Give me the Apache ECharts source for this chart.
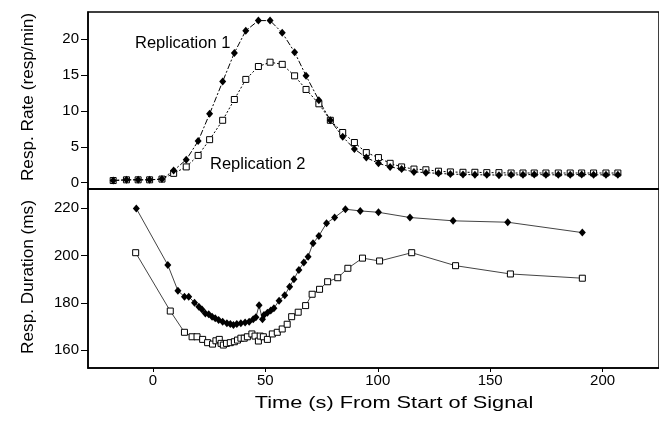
<!DOCTYPE html>
<html>
<head>
<meta charset="utf-8">
<script src="https://cdn.jsdelivr.net/npm/echarts@6/dist/echarts.min.js"></script>
<style>html,body{margin:0;padding:0;background:#fff}#c{width:659px;height:427px}</style>
</head>
<body>
<div id="c"></div>
<script>
// ---- Data ----
const xTicks = [0, 50, 100, 150, 200];
const rateTicks = [0, 5, 10, 15, 20];
const durTicks = [160, 180, 200, 220];

const rateTime = [-17.7, -11.8, -6.6, -1.5, 4.0, 9.2, 14.8, 20.1, 25.2, 31.0, 36.2, 41.3, 46.9, 52.1, 57.5, 63.0, 68.1, 73.8, 78.9, 84.4, 89.6, 94.9, 100.3, 105.5, 110.6, 116.1, 121.4, 127.0, 132.3, 137.9, 143.2, 148.5, 153.9, 159.3, 164.6, 169.6, 174.8, 180.3, 185.6, 190.7, 196.0, 201.5, 206.8];
const rateRep1 = [0.3, 0.4, 0.4, 0.4, 0.5, 1.7, 3.2, 5.8, 9.6, 14.1, 18.1, 21.2, 22.6, 22.6, 20.9, 18.2, 14.9, 11.5, 8.7, 6.4, 4.7, 3.5, 2.7, 2.2, 1.9, 1.5, 1.4, 1.3, 1.2, 1.15, 1.1, 1.1, 1.05, 1.1, 1.1, 1.15, 1.1, 1.1, 1.1, 1.15, 1.1, 1.1, 1.1];
const rateRep2 = [0.3, 0.4, 0.4, 0.4, 0.5, 1.3, 2.2, 3.8, 6.0, 8.7, 11.6, 14.4, 16.2, 16.8, 16.5, 14.9, 13.0, 11.0, 8.7, 7.0, 5.6, 4.2, 3.5, 2.7, 2.2, 1.9, 1.8, 1.6, 1.5, 1.45, 1.45, 1.4, 1.4, 1.35, 1.35, 1.35, 1.35, 1.35, 1.35, 1.35, 1.35, 1.35, 1.35];

const durTimeRep1 = [-7.4, 6.6, 11.1, 14.0, 15.9, 18.5, 20.4, 21.8, 23.3, 24.8, 26.3, 27.7, 29.2, 31.0, 32.9, 34.4, 35.8, 37.3, 39.1, 41.0, 42.8, 44.6, 45.8, 47.2, 48.7, 49.4, 50.9, 52.4, 53.8, 56.1, 58.6, 60.8, 62.7, 64.9, 67.1, 69.0, 71.2, 73.8, 77.2, 80.8, 85.6, 92.2, 100.3, 114.3, 133.5, 157.8, 191.0];
const durRep1 = [219.9, 196.0, 185.1, 182.6, 182.6, 180.0, 178.3, 177.2, 175.5, 175.1, 174.1, 173.4, 172.7, 172.0, 171.3, 171.0, 170.6, 171.0, 171.3, 171.6, 172.0, 173.0, 173.9, 178.9, 173.0, 174.8, 175.8, 176.7, 177.7, 180.9, 183.2, 186.8, 190.0, 193.9, 197.0, 199.5, 205.2, 208.3, 213.7, 216.1, 219.6, 218.9, 218.3, 216.1, 214.7, 214.1, 209.7];
const durTimeRep2 = [-7.7, 7.7, 14.0, 17.4, 19.6, 22.1, 24.3, 26.5, 28.0, 29.5, 30.3, 31.3, 32.7, 34.4, 36.2, 37.6, 39.1, 40.6, 42.0, 44.0, 45.4, 46.9, 47.7, 49.1, 50.9, 53.1, 55.3, 57.5, 59.7, 61.7, 64.6, 67.9, 70.8, 74.1, 77.7, 82.2, 86.7, 93.2, 100.8, 115.1, 134.6, 159.0, 191.0];
const durRep2 = [201.2, 176.5, 167.5, 165.6, 165.6, 164.5, 163.1, 162.5, 163.9, 164.5, 162.8, 162.1, 162.8, 163.1, 163.5, 164.2, 165.0, 165.0, 165.6, 166.8, 165.9, 163.8, 165.9, 165.6, 164.5, 166.8, 167.5, 168.9, 170.9, 174.1, 176.0, 178.8, 183.6, 185.7, 188.9, 190.6, 194.6, 198.9, 197.7, 201.2, 195.7, 192.2, 190.4];

const titles = {
  rate: 'Resp. Rate (resp/min)',
  dur: 'Resp. Duration (ms)',
  x: 'Time (s) From Start of Signal',
  rep1: 'Replication 1',
  rep2: 'Replication 2'
};

// ---- Build chart ----
const pairs = (xs, ys) => xs.map((x, i) => [x, ys[i]]);
const FONT = 'Liberation Sans, Arial, sans-serif';
const chart = echarts.init(document.getElementById('c'), null, {renderer: 'canvas'});

const xCommon = {
  type: 'value', min: -28.9, max: 225.1,
  splitLine: {show: false},
  axisLine: {show: true, onZero: false, lineStyle: {color: '#000', width: 1.5}},
  axisTick: {show: true, inside: false, length: 4, customValues: xTicks, lineStyle: {color: '#000'}},
  axisLabel: {show: true, customValues: xTicks, color: '#000', fontSize: 15, fontFamily: FONT, margin: 5}
};
const yCommon = {
  type: 'value',
  splitLine: {show: false},
  axisLine: {show: true, onZero: false, lineStyle: {color: '#000', width: 1.5}},
  axisTick: {show: true, inside: false, length: 7, lineStyle: {color: '#000'}},
  axisLabel: {color: '#000', fontSize: 15, fontFamily: FONT, margin: 9}
};

chart.setOption({
  animation: false,
  backgroundColor: '#fff',
  grid: [
    {left: 88, top: 12, right: -3, height: 177, show: true, borderColor: '#000', borderWidth: 1.5, containLabel: false},
    {left: 88, top: 189, right: -3, height: 179, show: true, borderColor: '#000', borderWidth: 1.5, containLabel: false}
  ],
  xAxis: [
    Object.assign({}, xCommon, {gridIndex: 0, axisTick: {show: false}, axisLabel: {show: false}}),
    Object.assign({}, xCommon, {gridIndex: 1})
  ],
  yAxis: [
    Object.assign({}, yCommon, {gridIndex: 0, min: -0.88, max: 23.8,
      axisTick: Object.assign({}, yCommon.axisTick, {customValues: rateTicks}),
      axisLabel: Object.assign({}, yCommon.axisLabel, {customValues: rateTicks})}),
    Object.assign({}, yCommon, {gridIndex: 1, min: 152.38, max: 228.17,
      axisTick: Object.assign({}, yCommon.axisTick, {customValues: durTicks}),
      axisLabel: Object.assign({}, yCommon.axisLabel, {customValues: durTicks})})
  ],
  series: [
    {name: titles.rep2, type: 'line', xAxisIndex: 0, yAxisIndex: 0, data: pairs(rateTime, rateRep2),
     symbol: 'rect', symbolSize: 6, itemStyle: {color: '#fff', borderColor: '#000', borderWidth: 1},
     lineStyle: {color: '#000', width: 1, type: [2, 2]}},
    {name: titles.rep1, type: 'line', xAxisIndex: 0, yAxisIndex: 0, data: pairs(rateTime, rateRep1),
     symbol: 'diamond', symbolSize: [7, 8], itemStyle: {color: '#000'},
     lineStyle: {color: '#000', width: 1, type: [6, 2, 2, 2]}},
    {name: titles.rep2, type: 'line', xAxisIndex: 1, yAxisIndex: 1, data: pairs(durTimeRep2, durRep2),
     symbol: 'rect', symbolSize: 6, itemStyle: {color: '#fff', borderColor: '#000', borderWidth: 1},
     lineStyle: {color: '#444', width: 1}},
    {name: titles.rep1, type: 'line', xAxisIndex: 1, yAxisIndex: 1, data: pairs(durTimeRep1, durRep1),
     symbol: 'diamond', symbolSize: [7, 8], itemStyle: {color: '#000'},
     lineStyle: {color: '#444', width: 1}}
  ],
  graphic: [
    {type: 'text', x: 135, y: 43, style: {text: titles.rep1, fontSize: 16.5, fontFamily: FONT, fill: '#000', verticalAlign: 'middle'}},
    {type: 'text', x: 210, y: 164, style: {text: titles.rep2, fontSize: 16.5, fontFamily: FONT, fill: '#000', verticalAlign: 'middle'}},
    {type: 'text', x: 28, y: 97, rotation: Math.PI / 2, style: {text: titles.rate, fontSize: 17.2, fontFamily: FONT, fill: '#000', align: 'center', verticalAlign: 'middle'}},
    {type: 'text', x: 28, y: 277, rotation: Math.PI / 2, style: {text: titles.dur, fontSize: 17.2, fontFamily: FONT, fill: '#000', align: 'center', verticalAlign: 'middle'}},
    {type: 'text', x: 394, y: 403, scaleX: 1.28, style: {text: titles.x, fontSize: 17, fontFamily: FONT, fill: '#000', align: 'center', verticalAlign: 'middle'}}
  ]
});
</script>
</body>
</html>
